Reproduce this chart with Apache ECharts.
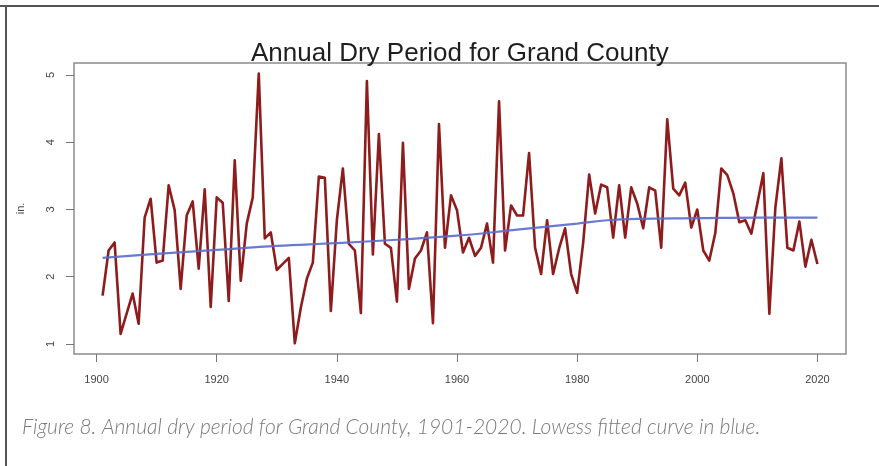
<!DOCTYPE html>
<html>
<head>
<meta charset="utf-8">
<script src="https://cdn.jsdelivr.net/npm/echarts@6/dist/echarts.min.js"></script>
<style>
  html, body { margin: 0; padding: 0; background: #fff; }
  #chart { width: 879px; height: 466px; }
</style>
</head>
<body>
<div id="chart"></div>
<script>
// Annual dry period (inches), Grand County, 1901-2020
const years = [
  1901, 1902, 1903, 1904, 1905, 1906, 1907, 1908, 1909, 1910,
  1911, 1912, 1913, 1914, 1915, 1916, 1917, 1918, 1919, 1920,
  1921, 1922, 1923, 1924, 1925, 1926, 1927, 1928, 1929, 1930,
  1931, 1932, 1933, 1934, 1935, 1936, 1937, 1938, 1939, 1940,
  1941, 1942, 1943, 1944, 1945, 1946, 1947, 1948, 1949, 1950,
  1951, 1952, 1953, 1954, 1955, 1956, 1957, 1958, 1959, 1960,
  1961, 1962, 1963, 1964, 1965, 1966, 1967, 1968, 1969, 1970,
  1971, 1972, 1973, 1974, 1975, 1976, 1977, 1978, 1979, 1980,
  1981, 1982, 1983, 1984, 1985, 1986, 1987, 1988, 1989, 1990,
  1991, 1992, 1993, 1994, 1995, 1996, 1997, 1998, 1999, 2000,
  2001, 2002, 2003, 2004, 2005, 2006, 2007, 2008, 2009, 2010,
  2011, 2012, 2013, 2014, 2015, 2016, 2017, 2018, 2019, 2020
];
const dryPeriod = [
  1.72, 2.39, 2.51, 1.15, 1.45, 1.75, 1.30, 2.88, 3.16, 2.21,
  2.24, 3.36, 2.99, 1.82, 2.91, 3.12, 2.12, 3.30, 1.55, 3.18,
  3.10, 1.64, 3.73, 1.94, 2.79, 3.18, 5.02, 2.57, 2.66, 2.10,
  2.19, 2.28, 1.01, 1.54, 1.97, 2.21, 3.49, 3.47, 1.49, 2.84,
  3.61, 2.49, 2.39, 1.46, 4.91, 2.33, 4.12, 2.49, 2.43, 1.63,
  3.99, 1.82, 2.27, 2.39, 2.66, 1.31, 4.27, 2.43, 3.21, 2.99,
  2.36, 2.58, 2.31, 2.43, 2.79, 2.21, 4.61, 2.39, 3.06, 2.91,
  2.91, 3.84, 2.43, 2.04, 2.84, 2.04, 2.42, 2.72, 2.04, 1.76,
  2.50, 3.52, 2.94, 3.37, 3.33, 2.58, 3.36, 2.58, 3.33, 3.09,
  2.72, 3.33, 3.28, 2.43, 4.34, 3.31, 3.21, 3.40, 2.73, 3.00,
  2.39, 2.24, 2.65, 3.61, 3.51, 3.24, 2.81, 2.84, 2.64, 3.09,
  3.54, 1.45, 3.03, 3.76, 2.43, 2.39, 2.82, 2.15, 2.55, 2.19
];

// Lowess fitted curve, sampled
const lowessYears = [1901, 1910, 1920, 1930, 1940, 1950, 1960, 1970, 1980, 1985, 1990, 2000, 2010, 2020];
const lowessValues = [2.28, 2.34, 2.40, 2.46, 2.50, 2.55, 2.61, 2.70, 2.79, 2.84, 2.86, 2.87, 2.88, 2.88];

const xTicks = [1900, 1920, 1940, 1960, 1980, 2000, 2020];
const yTicks = [1, 2, 3, 4, 5];

const titleText = 'Annual Dry Period for Grand County';
const yAxisName = 'in.';
const captionText = 'Figure 8. Annual dry period for Grand County, 1901-2020. Lowess fitted curve in blue.';

const chart = echarts.init(document.getElementById('chart'), null, { renderer: 'canvas' });

const tickStyle = { color: '#777', width: 1 };
const labelFont = { fontFamily: 'Liberation Sans', fontSize: 11, color: '#444' };

chart.setOption({
  animation: false,
  backgroundColor: '#fff',
  title: {
    text: titleText,
    left: 246,
    top: 36,
    textStyle: { fontFamily: 'Liberation Sans', fontSize: 26, fontWeight: 'normal', color: '#1e1e1e' }
  },
  grid: {
    left: 74, top: 63, width: 772, height: 291,
    show: true, borderColor: '#8c8c8c', borderWidth: 1.5, backgroundColor: 'transparent',
    containLabel: false
  },
  xAxis: {
    type: 'value',
    min: 1896.24, max: 2024.76,
    axisLine: { show: false },
    splitLine: { show: false },
    axisTick: { show: true, inside: false, length: 8, lineStyle: tickStyle, customValues: xTicks },
    axisLabel: Object.assign({ margin: 20, customValues: xTicks, formatter: v => String(v) }, labelFont)
  },
  yAxis: {
    type: 'value',
    min: 0.851, max: 5.178,
    name: yAxisName,
    nameLocation: 'middle',
    nameRotate: 90,
    nameGap: 48,
    nameTextStyle: { fontFamily: 'Liberation Sans', fontSize: 11, color: '#444' },
    axisLine: { show: false },
    splitLine: { show: false },
    axisTick: { show: true, inside: false, length: 8, lineStyle: tickStyle, customValues: yTicks },
    axisLabel: Object.assign({ margin: 18, rotate: 90, customValues: yTicks, formatter: v => String(v) }, labelFont)
  },
  series: [
    {
      type: 'line',
      data: years.map((y, i) => [y, dryPeriod[i]]),
      showSymbol: false,
      lineStyle: { color: '#8e1c1c', width: 2.6, join: 'round' },
      z: 2
    },
    {
      type: 'line',
      data: lowessYears.map((y, i) => [y, lowessValues[i]]),
      smooth: 0.4,
      showSymbol: false,
      lineStyle: { color: '#5a6bcc', width: 2.2, opacity: 0.9 },
      z: 3
    }
  ],
  graphic: [
    { type: 'line', shape: { x1: 0, y1: 6, x2: 879, y2: 6 }, style: { stroke: '#555', lineWidth: 2 }, silent: true },
    { type: 'line', shape: { x1: 6, y1: 5, x2: 6, y2: 466 }, style: { stroke: '#555', lineWidth: 2 }, silent: true },
    {
      type: 'text', left: 22, top: 417,
      style: {
        text: captionText,
        font: 'italic 300 21px Lato',
        fill: '#7a7a7a'
      },
      silent: true
    }
  ]
});
</script>
</body>
</html>
